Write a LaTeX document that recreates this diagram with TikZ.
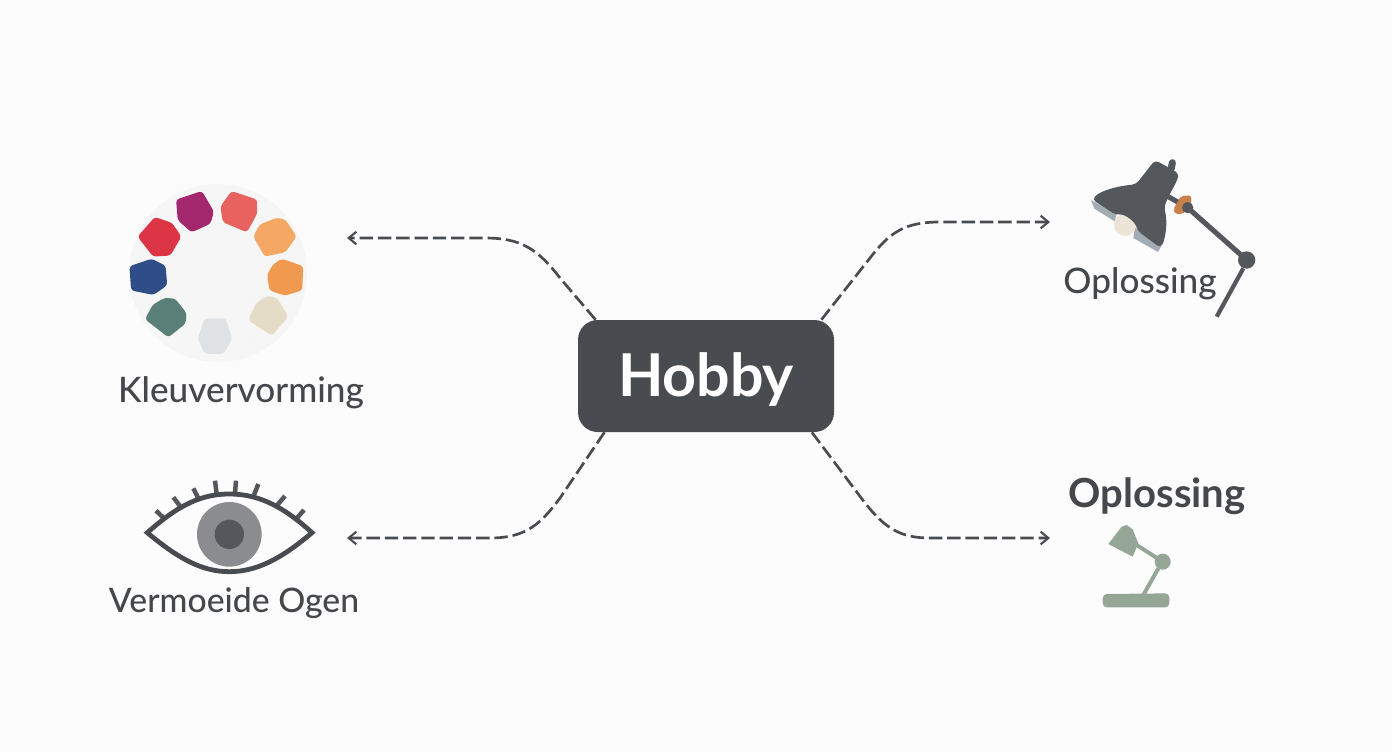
\documentclass[tikz,border=0pt]{standalone}
\usepackage{fontspec}
\setmainfont{Lato}
\newfontfamily\labelfont{Lato Medium}
\newfontfamily\headfont{Lato Bold}
\usetikzlibrary{arrows.meta,positioning}
\definecolor{pagebg}{HTML}{FCFCFC}
\definecolor{slate}{HTML}{484B50}
\definecolor{lampdark}{HTML}{54575B}
\definecolor{inktext}{HTML}{44474B}
\definecolor{sage}{HTML}{95A596}
\definecolor{rimgrey}{HTML}{A3ABB3}
\definecolor{collar}{HTML}{C7804A}
\definecolor{bulb}{HTML}{ECE4D6}
\definecolor{iris}{HTML}{8A8C8F}
\definecolor{pupil}{HTML}{54585C}
\definecolor{wheelbg}{HTML}{F6F6F7}
\definecolor{cBlue}{HTML}{2F4D86}
\definecolor{cRed}{HTML}{DC3545}
\definecolor{cMagenta}{HTML}{A3286E}
\definecolor{cCoral}{HTML}{E8625F}
\definecolor{cPeach}{HTML}{F4A864}
\definecolor{cOrange}{HTML}{EF9A4F}
\definecolor{cBeige}{HTML}{E4DCC6}
\definecolor{cMist}{HTML}{DFE3E6}
\definecolor{cGreen}{HTML}{5A7F78}
\newcommand{\px}{.025cm}
\newcommand{\blob}[2]{\filldraw[draw=#1,fill=#1,line width=.8pt,line join=round,rounded corners=2pt] #2 -- cycle;}
\tikzset{
  link/.style={draw=slate,line width=1.9pt,dash pattern=on 9.5pt off 3.5pt,
    arrows={-{Straight Barb[length=5.5pt,width=9pt,line width=1.5pt]}}},
  label/.style={text=inktext,inner sep=0pt,anchor=base},
}
\begin{document}
\begin{tikzpicture}[x=\px,y=-\px]
  \fill[pagebg] (0,0) rectangle (1392,752);
  \node (hobby) [fill=slate,rounded corners=14pt,minimum width=256*\px,minimum height=112*\px,
    inner sep=0pt,text=white,text height=30pt,text depth=.2pt,font=\fontsize{42}{50}\headfont] at (706,376) {Hobby};

  % kleurenwiel
  \node (wheel) [circle,fill=wheelbg,inner sep=0pt,minimum size=178*\px] at (218,273) {};
  \begin{scope}[shift={(110,170)},scale=1/3]
    \draw[black!4,line width=.5pt] (460,450) circle (70);
    \blob{cBlue}{(125,268) -- (165,288) -- (170,345) -- (130,373) -- (65,360) -- (60,290)}
    \blob{cRed}{(135,143) -- (185,160) -- (212,200) -- (180,255) -- (130,258) -- (85,200)}
    \blob{cMagenta}{(200,90) -- (275,65) -- (310,125) -- (300,160) -- (245,185) -- (205,150)}
    \blob{cCoral}{(365,65) -- (440,90) -- (440,130) -- (410,185) -- (340,155) -- (333,110)}
    \blob{cPeach}{(500,145) -- (525,150) -- (558,200) -- (525,245) -- (465,258) -- (432,200) -- (450,165)}
    \blob{cOrange}{(515,268) -- (578,290) -- (575,360) -- (525,375) -- (480,360) -- (473,315) -- (490,285)}
    \blob{cBeige}{(470,380) -- (500,385) -- (533,440) -- (485,495) -- (417,450) -- (440,400)}
    \blob{cMist}{(285,447) -- (345,447) -- (365,505) -- (340,550) -- (285,550) -- (265,505)}
    \blob{cGreen}{(165,385) -- (195,388) -- (228,430) -- (225,460) -- (175,500) -- (107,447) -- (130,405)}
  \end{scope}
  \node (kleur) [label,font=\fontsize{25}{30}\labelfont] at (241,402) {Kleuvervorming};

  % oog
  \begin{scope}[shift={(100,470)},scale=1/3]
    \foreach \xa/\ya/\xb/\yb in {168/122/190/143,220/82/243/112,280/55/295/85,345/32/350/72,408/32/405/70,475/42/462/75,555/78/532/105,612/120/590/145}
      \draw[lampdark,line width=3.2pt] (\xa,\ya) -- (\xb,\yb);
    \fill[iris] (388,193) circle (97);
    \fill[pupil] (388,193) circle (44);
    \draw[slate,line width=3.4pt,line join=miter] (142,188) .. controls (240,100) and (310,72) .. (388,72)
      .. controls (466,72) and (540,100) .. (636,188) .. controls (540,270) and (466,305) .. (388,305)
      .. controls (310,305) and (240,270) .. (142,188) -- cycle;
  \end{scope}
  \node (ogen) [label,font=\fontsize{24}{30}\labelfont] at (234,612) {Vermoeide Ogen};

  % grote lamp
  \begin{scope}[shift={(1040,140)},scale=1/3]
    \draw[lampdark,line width=3.6pt] (385,170) -- (443,203);
    \draw[lampdark,line width=3.6pt] (443,203) -- (620,360);
    \draw[lampdark,line width=3pt] (610,385) -- (530,530);
    \fill[lampdark] (620,360) circle (26);
    \fill[collar,rounded corners=1.5pt] (400,207) -- (423,168) -- (452,166) -- (455,187) -- (427,223) -- (406,221) -- cycle;
    \fill[lampdark] (443,203) circle (17);
    \fill[rimgrey] (153,180) -- (230,222) -- (224,244) -- (163,206) -- cycle;
    \fill[rimgrey] (285,262) -- (364,318) -- (354,336) -- (280,294) -- cycle;
    \fill[bulb] (255,255) circle (33);
    \draw[lampdark,line width=5pt,line cap=round] (397,68) -- (394,85);
    \fill[lampdark,rounded corners=3pt] (345,60) -- (417,100) -- (412,120) -- (388,165) -- (372,200) .. controls (384,250) and (376,295) .. (362,324)
      -- (292,272) .. controls (285,245) and (255,222) .. (228,225) -- (156,178) .. controls (185,150) and (235,138) .. (288,133) -- cycle;
  \end{scope}
  \node (oplossingA) [label,font=\fontsize{25}{30}\labelfont] at (1140,293) {Oplossing};

  % kleine lamp
  \node (oplossingB) [label,font=\fontsize{28.5}{32}\headfont] at (1157,507) {Oplossing};
  \begin{scope}[shift={(1050,470)},scale=1/3]
    \draw[sage,line width=2.8pt] (260,225) -- (338,275);
    \draw[sage,line width=2.8pt] (325,295) -- (280,375);
    \fill[sage] (338,275) circle (24);
    \fill[sage] (215,170) -- (230,165) -- (248,178) -- (265,220) -- (248,260) -- (175,222) -- cycle;
    \fill[sage,rounded corners=3pt] (158,412) -- (158,372) -- (358,370) -- (358,412) -- cycle;
  \end{scope}

  % verbindingen
  \coordinate (tipKleur) at (347,238);
  \coordinate (tipOgen) at (347,538);
  \coordinate (tipLampA) at (1050,222);
  \coordinate (tipLampB) at (1050,538);
  \draw[link] (hobby.153.4) -- (560,278) .. controls (537,248) and (520,238) .. (485,238) -- (tipKleur);
  \draw[link] (hobby.209.7) -- (560,498) .. controls (540,525) and (525,538) .. (490,538) -- (tipOgen);
  \draw[link] (hobby.26.6) -- (870,258) .. controls (890,232) and (905,222) .. (940,222) -- (tipLampA);
  \draw[link] (hobby.332.6) -- (865,503) .. controls (885,528) and (900,538) .. (930,538) -- (tipLampB);
\end{tikzpicture}
\end{document}
